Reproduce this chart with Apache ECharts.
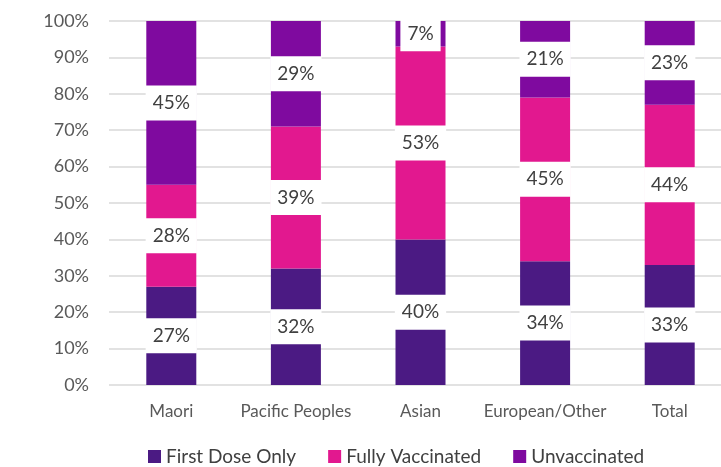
<!DOCTYPE html>
<html>
<head>
<meta charset="utf-8">
<script src="https://cdn.jsdelivr.net/npm/echarts@6/dist/echarts.min.js"></script>
<style>
  html, body { margin: 0; padding: 0; background: #fff; }
  #main { width: 721px; height: 467px; }
</style>
</head>
<body>
<div id="main"></div>
<script>
// vaccination status by ethnicity, % of people
const categories = ['Maori', 'Pacific Peoples', 'Asian', 'European/Other', 'Total']
const firstDose = [27, 32, 40, 34, 33]
const fullyVaccinated = [28, 39, 53, 45, 44]
const unvaccinated = [45, 29, 7, 21, 23]
const yTicks = [0, 10, 20, 30, 40, 50, 60, 70, 80, 90, 100]

const font = 'Lato'
const barLabel = {
    show: true,
    position: 'inside',
    formatter: p => p.value + '%',
    color: '#404040',
    fontFamily: font,
    fontSize: 19,
    backgroundColor: '#fff',
    padding: [8, 7, 8, 7]
}

function makeSeries(name, data, color) {
    return {
        name: name,
        type: 'bar',
        stack: 'total',
        data: data,
        barWidth: 50,
        itemStyle: { color: color },
        label: barLabel
    }
}

const chart = echarts.init(document.getElementById('main'))
chart.setOption({
    animation: false,
    // plot area runs past the right edge of the picture
    grid: { left: 109, width: 623, top: 21, bottom: 82, outerBoundsMode: 'none' },
    legend: {
        top: 442,
        left: 143,
        padding: 5,
        itemWidth: 13,
        itemHeight: 13,
        itemGap: 32,
        icon: 'rect',
        textStyle: { color: '#404040', fontFamily: font, fontSize: 19 },
        data: ['First Dose Only', 'Fully Vaccinated', 'Unvaccinated']
    },
    xAxis: {
        type: 'category',
        data: categories,
        axisLine: { show: false },
        axisTick: { show: false },
        axisLabel: { interval: 0, color: '#595959', fontFamily: font, fontSize: 17, margin: 18 }
    },
    yAxis: {
        type: 'value',
        min: yTicks[0],
        max: yTicks[yTicks.length - 1],
        interval: 10,
        axisLabel: {
            formatter: v => v + '%',
            color: '#595959',
            fontFamily: font,
            fontSize: 18,
            margin: 20
        },
        splitLine: { lineStyle: { color: '#d9d9d9', width: 1.5 } }
    },
    series: [
        makeSeries('First Dose Only', firstDose, '#4b1a83'),
        makeSeries('Fully Vaccinated', fullyVaccinated, '#e2188f'),
        makeSeries('Unvaccinated', unvaccinated, '#7f0a9f')
    ]
})
</script>
</body>
</html>
